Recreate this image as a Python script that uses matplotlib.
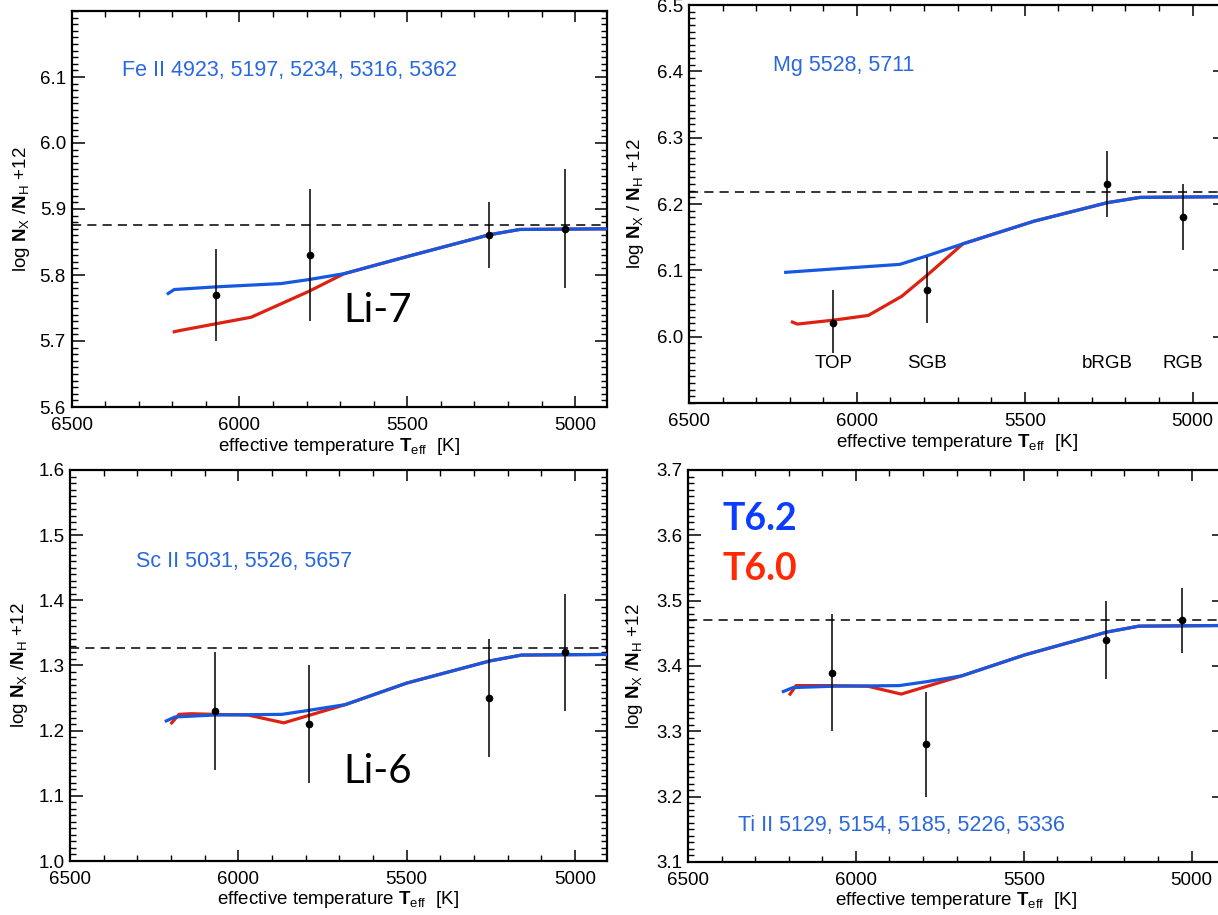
import matplotlib
matplotlib.use('Agg')
import matplotlib.pyplot as plt
from matplotlib.ticker import MultipleLocator, FormatStrFormatter

plt.rcParams['font.family'] = ['Liberation Sans', 'DejaVu Sans']
plt.rcParams['mathtext.fontset'] = 'custom'
plt.rcParams['mathtext.rm'] = 'Liberation Sans'
plt.rcParams['mathtext.bf'] = 'Liberation Sans:bold'

# star temperatures (TOP, SGB, bRGB, RGB)
t_stars = [6070, 5790, 5255, 5030]
stage_names = ['TOP', 'SGB', 'bRGB', 'RGB']

# Fe II
fe_obs = [5.77, 5.83, 5.86, 5.87]
fe_err = [0.07, 0.10, 0.05, 0.09]
fe_sun = 5.876
fe_t62_T = [6212, 6194, 6071, 5876, 5794, 5688, 5500, 5255, 5165, 4900]
fe_t62_y = [5.772, 5.778, 5.782, 5.787, 5.793, 5.802, 5.828, 5.861, 5.869, 5.870]
fe_t60_T = [6194, 6176, 6071, 5965, 5794, 5688]
fe_t60_y = [5.714, 5.716, 5.726, 5.736, 5.775, 5.802]

# Mg
mg_obs = [6.02, 6.07, 6.23, 6.18]
mg_err = [0.05, 0.05, 0.05, 0.05]
mg_sun = 6.218
mg_t62_T = [6212, 6072, 5872, 5790, 5684, 5473, 5254, 5156, 4900]
mg_t62_y = [6.097, 6.102, 6.109, 6.122, 6.140, 6.174, 6.202, 6.210, 6.211]
mg_t60_T = [6192, 6177, 6068, 5966, 5866, 5790, 5684]
mg_t60_y = [6.022, 6.019, 6.025, 6.032, 6.061, 6.093, 6.140]

# Sc II
sc_obs = [1.23, 1.21, 1.25, 1.32]
sc_err = [0.09, 0.09, 0.09, 0.09]
sc_sun = 1.327
sc_t62_T = [6214, 6188, 6071, 5871, 5793, 5682, 5500, 5253, 5159, 4900]
sc_t62_y = [1.215, 1.221, 1.224, 1.225, 1.231, 1.240, 1.273, 1.307, 1.316, 1.317]
sc_t60_T = [6198, 6176, 6141, 6071, 5971, 5865, 5682]
sc_t60_y = [1.212, 1.225, 1.226, 1.225, 1.224, 1.212, 1.240]

# Ti II
ti_obs = [3.39, 3.28, 3.44, 3.47]
ti_err = [0.09, 0.08, 0.06, 0.05]
ti_sun = 3.47
ti_t62_T = [6216, 6187, 6070, 5871, 5789, 5684, 5497, 5252, 5157, 4900]
ti_t62_y = [3.361, 3.367, 3.369, 3.370, 3.376, 3.385, 3.417, 3.452, 3.461, 3.462]
ti_t60_T = [6196, 6178, 6070, 5964, 5865, 5684]
ti_t60_y = [3.357, 3.370, 3.370, 3.369, 3.357, 3.385]

x_ticks = [6500, 6000, 5500, 5000]

BLUE = '#1658e0'
RED = '#dd2212'
LABEL_BLUE = '#2a68dd'
FS = 13.5

W, H = 1218, 915
fig = plt.figure(figsize=(W / 100, H / 100), dpi=100)


def px_axes(left, top, right, bottom):
    return fig.add_axes([left / W, 1 - bottom / H, (right - left) / W, (bottom - top) / H])


ylab = r'log $\mathbf{N}_{\mathrm{X}}$ /$\mathbf{N}_{\mathrm{H}}$ +12'
ylab_mg = r'log $\mathbf{N}_{\mathrm{X}}$ / $\mathbf{N}_{\mathrm{H}}$ +12'
xlab = r'effective temperature $\mathbf{T}_{\mathrm{eff}}$  [K]'


def panel(ax, ylim, yticks, obs, err, sun, t62_T, t62_y, t60_T, t60_y, label, lpos, ylabel):
    ax.set_xlim(6500, 4905)
    ax.set_ylim(*ylim)
    ax.axhline(sun, color='black', lw=1.1, ls=(0, (6, 4)), zorder=1)
    # red model first, blue drawn over it where they merge
    t60_full_T = t60_T + [t for t in t62_T if t < t60_T[-1]]
    t60_full_y = t60_y + [y for t, y in zip(t62_T, t62_y) if t < t60_T[-1]]
    ax.plot(t60_full_T, t60_full_y, color=RED, lw=2.3, zorder=2)
    ax.plot(t62_T, t62_y, color=BLUE, lw=2.3, zorder=3)
    ax.errorbar(t_stars, obs, yerr=err, fmt='o', color='black', ms=4.5,
                elinewidth=1.1, capsize=0, zorder=4)
    ax.text(lpos[0], lpos[1], label, transform=ax.transAxes, color=LABEL_BLUE,
            fontsize=15.5, va='center', ha='left')

    ax.set_xticks(x_ticks)
    ax.xaxis.set_minor_locator(MultipleLocator(100))
    ax.set_yticks(yticks)
    ax.yaxis.set_minor_locator(MultipleLocator(0.01))
    ax.yaxis.set_major_formatter(FormatStrFormatter('%.1f'))
    ax.tick_params(which='both', direction='in', top=True, right=True, labelsize=FS)
    ax.tick_params(axis='x', which='major', length=8, width=1.1, pad=7)
    ax.tick_params(axis='x', which='minor', length=4, width=1)
    ax.tick_params(axis='y', which='major', length=9, width=1.1, pad=4)
    ax.tick_params(axis='y', which='minor', length=4.5, width=1)
    for s in ax.spines.values():
        s.set_linewidth(1.6)
    ax.set_ylabel(ylabel, fontsize=FS)
    ax.set_xlabel(xlab, fontsize=FS)
    ax.yaxis.set_label_coords(-0.074, 0.5)
    ax.xaxis.set_label_coords(0.5, -0.072)
    ax.xaxis.label.set_va('top')


ax1 = px_axes(71.5, 11, 607, 407)
panel(ax1, (5.6, 6.2), [5.6, 5.7, 5.8, 5.9, 6.0, 6.1], fe_obs, fe_err, fe_sun,
      fe_t62_T, fe_t62_y, fe_t60_T, fe_t60_y,
      'Fe II 4923, 5197, 5234, 5316, 5362', (0.095, 0.851), ylab)
ax1.text(0.508, 0.215, 'Li-7', transform=ax1.transAxes, fontsize=29,
         family='Lato', color='black', va='baseline')

ax2 = px_axes(689, 5, 1224.5, 403)
panel(ax2, (5.9, 6.5), [6.0, 6.1, 6.2, 6.3, 6.4, 6.5], mg_obs, mg_err, mg_sun,
      mg_t62_T, mg_t62_y, mg_t60_T, mg_t60_y,
      'Mg 5528, 5711', (0.157, 0.849), ylab_mg)
ax2.yaxis.set_label_coords(-0.08, 0.5)
for t, name in zip(t_stars, stage_names):
    ax2.text(t, 5.96, name, ha='center', va='center', fontsize=FS, zorder=5,
             bbox=dict(facecolor='white', edgecolor='none', pad=1))

ax3 = px_axes(70, 470, 607, 861)
panel(ax3, (1.0, 1.6), [1.0, 1.1, 1.2, 1.3, 1.4, 1.5, 1.6], sc_obs, sc_err, sc_sun,
      sc_t62_T, sc_t62_y, sc_t60_T, sc_t60_y,
      'Sc II 5031, 5526, 5657', (0.123, 0.767), ylab)
ax3.text(0.51, 0.199, 'Li-6', transform=ax3.transAxes, fontsize=29,
         family='Lato', color='black', va='baseline')

ax4 = px_axes(688, 470, 1223.5, 862)
panel(ax4, (3.1, 3.7), [3.1, 3.2, 3.3, 3.4, 3.5, 3.6, 3.7], ti_obs, ti_err, ti_sun,
      ti_t62_T, ti_t62_y, ti_t60_T, ti_t60_y,
      'Ti II 5129, 5154, 5185, 5226, 5336', (0.093, 0.092), ylab)
ax4.yaxis.set_label_coords(-0.08, 0.5)
ax4.text(0.064, 0.847, 'T6.2', transform=ax4.transAxes, fontsize=27,
         family='Lato', weight='bold', color='#0c3cff', va='baseline')
ax4.text(0.064, 0.719, 'T6.0', transform=ax4.transAxes, fontsize=27,
         family='Lato', weight='bold', color='#ff2a05', va='baseline')

fig.savefig('out.png', dpi=100)
